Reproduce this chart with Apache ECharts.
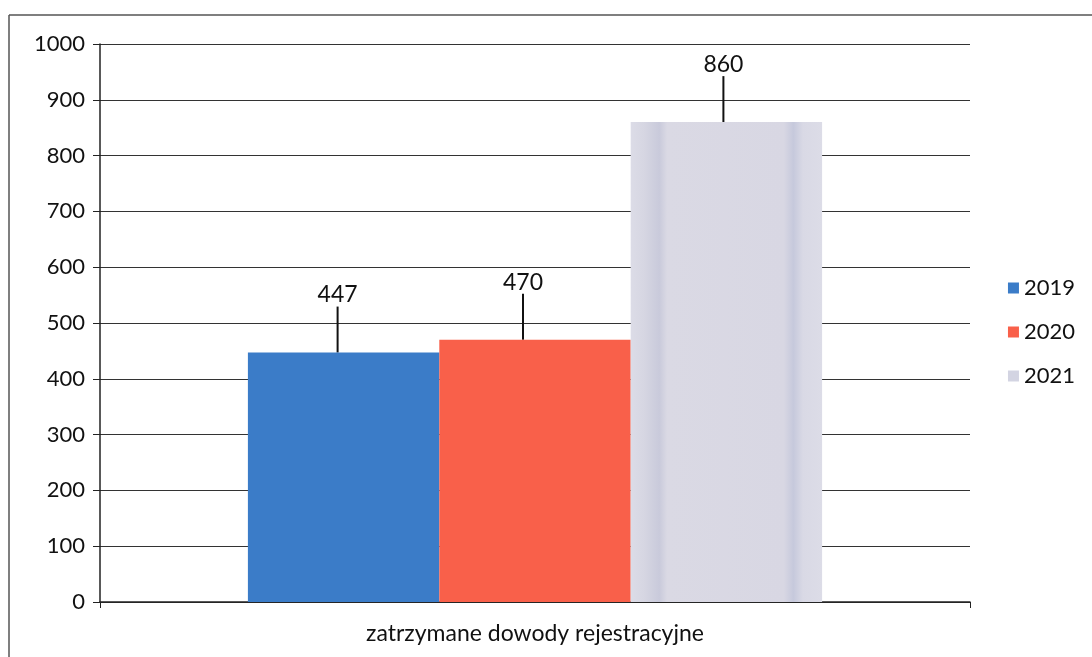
<!DOCTYPE html>
<html>
<head>
<meta charset="utf-8">
<script src="https://cdn.jsdelivr.net/npm/echarts@6/dist/echarts.min.js"></script>
<style>
  html, body { margin: 0; padding: 0; background: #fff; }
  #chart { width: 1092px; height: 657px; }
</style>
</head>
<body>
<div id="chart"></div>
<script>
// dane z wykresu
const categories = ['zatrzymane dowody rejestracyjne'];
const years = ['2019', '2020', '2021'];
const values2019 = [447];
const values2020 = [470];
const values2021 = [860];
const yTicks = [0, 1000, 100]; // min, max, interval

const font = 'Lato, "Open Sans", sans-serif';
// 2021 - jasny, lekko zmatowiony słupek z ciemniejszymi pasami
const grayBar = new echarts.graphic.LinearGradient(0, 0, 1, 0, [
  { offset: 0, color: '#dcdce7' },
  { offset: 0.07, color: '#d6d6e2' },
  { offset: 0.15, color: '#c9cadb' },
  { offset: 0.19, color: '#dad9e4' },
  { offset: 0.8, color: '#d8d7e3' },
  { offset: 0.85, color: '#c6c9dc' },
  { offset: 0.9, color: '#d9d9e5' },
  { offset: 1, color: '#dcdce7' }
]);
const colors = ['#3b7cc8', '#f9604a', grayBar];
const legendColors = ['#3b7cc8', '#f9604a', '#d3d4e2'];
const labelShift = [-6, -12, -3];

const chart = echarts.init(document.getElementById('chart'));

const makeSeries = (name, data, i) => ({
  name: name,
  type: 'bar',
  data: data,
  barWidth: '22%',
  barGap: '0%',
  itemStyle: { color: colors[i] },
  label: {
    show: true,
    position: 'top',
    distance: 0,
    color: '#111',
    fontFamily: font,
    fontSize: 23,
    padding: [0, 0, 8, 0]
  },
  labelLayout: { dx: labelShift[i], dy: -38 },
  labelLine: { show: true, lineStyle: { color: '#111', width: 2 } }
});

const option = {
  backgroundColor: '#fff',
  animation: false,
  textStyle: { fontFamily: font },
  graphic: [
    { type: 'line', shape: { x1: 9, y1: 15, x2: 1092, y2: 15 }, style: { stroke: '#555', lineWidth: 1.5 } },
    { type: 'line', shape: { x1: 9, y1: 15, x2: 9, y2: 657 }, style: { stroke: '#555', lineWidth: 1.5 } }
  ],
  grid: { left: 100, right: 122, top: 44, bottom: 55 },
  legend: {
    orient: 'vertical',
    right: 12,
    top: 272,
    itemWidth: 11,
    itemHeight: 11,
    itemGap: 22,
    icon: 'rect',
    data: years.map((y, i) => ({ name: y, itemStyle: { color: legendColors[i] } })),
    textStyle: { fontFamily: font, fontSize: 22, color: '#111' }
  },
  xAxis: {
    type: 'category',
    data: categories,
    axisLine: { lineStyle: { color: '#222', width: 1.5 } },
    axisTick: { show: true, length: 6, lineStyle: { color: '#222' } },
    axisLabel: { color: '#111', fontSize: 23, margin: 20, fontFamily: font }
  },
  yAxis: {
    type: 'value',
    min: yTicks[0],
    max: yTicks[1],
    interval: yTicks[2],
    axisLine: { show: true, lineStyle: { color: '#222', width: 1.5 } },
    axisTick: { show: true, length: 7, lineStyle: { color: '#222' } },
    axisLabel: { color: '#111', fontSize: 22, margin: 15, fontFamily: font, formatter: v => String(v) },
    splitLine: { lineStyle: { color: '#333', width: 1.2 } }
  },
  series: [
    makeSeries(years[0], values2019, 0),
    makeSeries(years[1], values2020, 1),
    makeSeries(years[2], values2021, 2)
  ]
};

chart.setOption(option);
window.addEventListener('resize', () => chart.resize());
</script>
</body>
</html>
